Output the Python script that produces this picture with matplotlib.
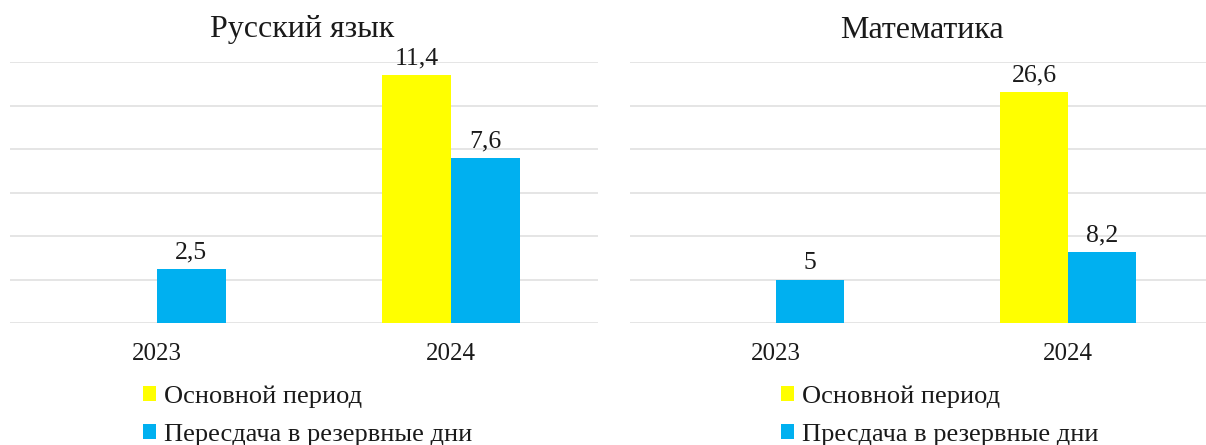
import matplotlib
matplotlib.use("Agg")
import matplotlib.pyplot as plt
import numpy as np

years = ["2023", "2024"]
rus_main = [0, 11.4]
rus_retake = [2.5, 7.6]
math_main = [0, 26.6]
math_retake = [5, 8.2]
rus_labels_main = [None, "11,4"]
rus_labels_retake = ["2,5", "7,6"]
math_labels_main = [None, "26,6"]
math_labels_retake = ["5", "8,2"]
legend_rus = ["Основной период", "Пересдача в резервные дни"]
legend_math = ["Основной период", "Пресдача в резервные дни"]
titles = ["Русский язык", "Математика"]

YELLOW = "#ffff00"
BLUE = "#00b0f0"
GRID = "#dedede"
TXT = "#1a1a1a"

plt.rcParams["font.family"] = ["Liberation Serif", "DejaVu Serif"]

W, H = 1206, 445
fig = plt.figure(figsize=(W / 100, H / 100), dpi=100)

def px_axes(x0, x1, ytop, ybot):
    return fig.add_axes([x0 / W, (H - ybot) / H, (x1 - x0) / W, (ybot - ytop) / H])

bw = 0.233

def draw(ax, main, retake, lab_main, lab_ret, ymax, step, xlim, title, title_x, legend_labels, leg_x):
    x = np.arange(len(years))
    b1 = ax.bar(x - bw / 2, main, bw, color=YELLOW, zorder=3)
    b2 = ax.bar(x + bw / 2, retake, bw, color=BLUE, zorder=3)
    for bars, labs in ((b1, lab_main), (b2, lab_ret)):
        for rect, lab in zip(bars, labs):
            if lab:
                ax.annotate(lab, (rect.get_x() + rect.get_width() / 2, rect.get_height()),
                            xytext=(0, 4), textcoords="offset points", ha="center", va="bottom",
                            fontsize=18.5, color=TXT)
    ax.set_ylim(0, ymax)
    ax.set_xlim(*xlim)
    ax.set_yticks(np.arange(0, ymax + 0.01, step))
    ax.yaxis.grid(True, color=GRID, linewidth=1.1, zorder=0)
    ax.set_axisbelow(True)
    for s in ax.spines.values():
        s.set_visible(False)
    ax.tick_params(left=False, bottom=False, labelleft=False)
    ax.set_xticks(x)
    ax.set_xticklabels(years, fontsize=18, color=TXT)
    ax.tick_params(axis="x", pad=11)
    fig.text(title_x / W, (H - 30) / H, title, ha="center", va="center", fontsize=23, color=TXT)
    leg = fig.legend([b1, b2], legend_labels, loc="upper left",
                     bbox_to_anchor=(leg_x / W, (H - 385) / H), frameon=False,
                     fontsize=19, handlelength=0.5, handleheight=0.5,
                     handletextpad=0.3, labelspacing=0.62, borderpad=0, borderaxespad=0)
    for t in leg.get_texts():
        t.set_color(TXT)

ax1 = px_axes(10, 598, 62, 323)
draw(ax1, rus_main, rus_retake, rus_labels_main, rus_labels_retake, 12, 2, (-0.5, 1.5),
     titles[0], 302, legend_rus, 143)

ax2 = px_axes(630, 1206, 62, 323)
draw(ax2, math_main, math_retake, math_labels_main, math_labels_retake, 30, 5,
     (-0.5, -0.5 + 576 / 292), titles[1], 922, legend_math, 781)

fig.savefig("out.png", dpi=100)
